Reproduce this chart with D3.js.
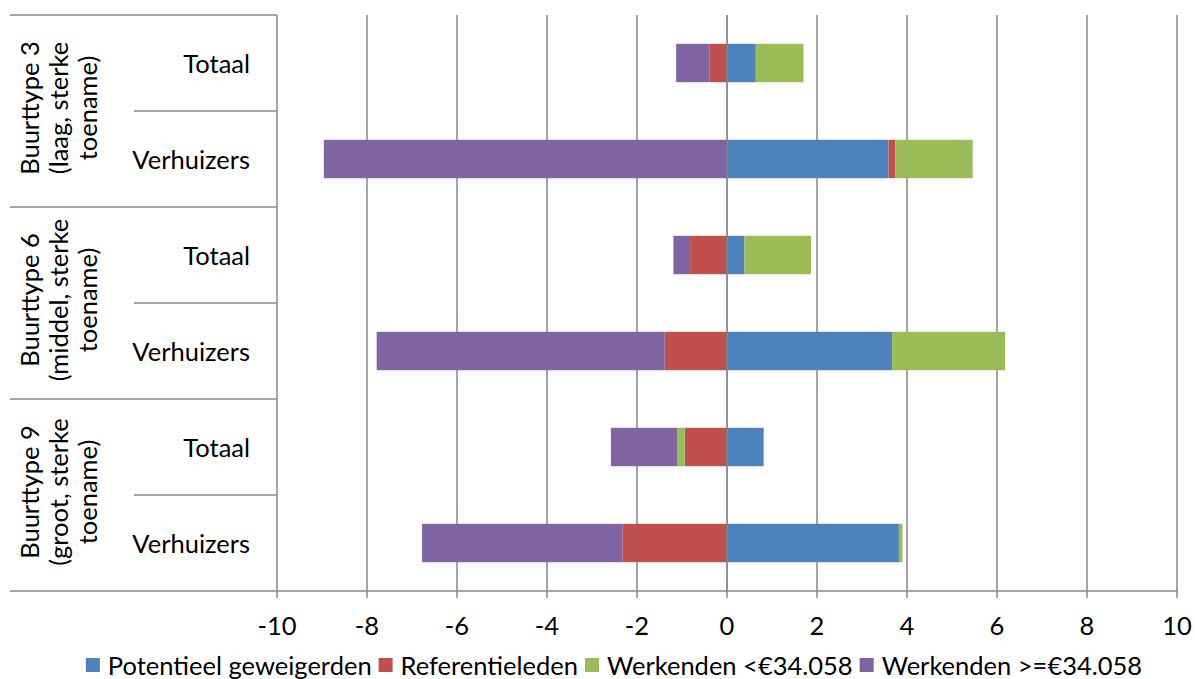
<!DOCTYPE html>
<html>
<head>
<meta charset="utf-8">
<script src="https://cdn.jsdelivr.net/npm/d3@7"></script>
<style>
  html, body { margin: 0; padding: 0; background: #fff; }
  svg { display: block; font-family: Lato, "Open Sans", sans-serif; }
</style>
</head>
<body>
<svg id="chart" width="1195" height="679"></svg>
<script>
// ---- data ----
const groups = ["Buurttype 3|(laag, sterke|toename)", "Buurttype 6|(middel, sterke|toename)", "Buurttype 9|(groot, sterke|toename)"];
const subcategories = ["Totaal", "Verhuizers"];
const seriesNames = ["Potentieel geweigerden", "Referentieleden", "Werkenden <€34.058", "Werkenden >=€34.058"];
const potentieel  = [0.64, 3.59, 0.385, 3.67, 0.815, 3.82];
const referentie  = [-0.385, 0.15, -0.82, -1.385, -0.94, -2.325];
const werkLaag    = [1.06, 1.72, 1.48, 2.51, -0.16, 0.08];
const werkHoog    = [-0.745, -8.96, -0.37, -6.40, -1.48, -4.45];
const xTicks = [-10, -8, -6, -4, -2, 0, 2, 4, 6, 8, 10];
const colors = ["#4F81BD", "#C0504D", "#9BBB59", "#8064A2"];

(function () {
const FS = 25.5;
// ---- build rows ----
const rows = [];
groups.forEach((g, gi) => subcategories.forEach((s, si) => {
  const i = gi * subcategories.length + si;
  rows.push({ id: i, group: gi, sub: s, s0: potentieel[i], s1: referentie[i], s2: werkLaag[i], s3: werkHoog[i] });
}));

const svg = d3.select("#chart");
const pLeft = 277, pRight = 1177, pTop = 15, pBottom = 591;
const x = d3.scaleLinear().domain([-10, 10]).range([pLeft, pRight]);
const y = d3.scaleBand().domain(rows.map(r => r.id)).range([pTop, pBottom]).paddingInner(0.6).paddingOuter(0.3);
const step = y.step();
const grid = "#888888";

// gridlines (with ticks below)
svg.append("g").selectAll("line").data(xTicks).join("line")
  .attr("x1", d => x(d)).attr("x2", d => x(d))
  .attr("y1", pTop).attr("y2", pBottom + 7)
  .attr("stroke", grid).attr("stroke-width", 1.5);

// bars
const stack = d3.stack().keys(["s0", "s1", "s2", "s3"]).offset(d3.stackOffsetDiverging);
const stacked = stack(rows);
svg.append("g").selectAll("g").data(stacked).join("g")
  .attr("fill", (d, i) => colors[i])
  .selectAll("rect").data(d => d).join("rect")
  .attr("x", d => x(Math.min(d[0], d[1])))
  .attr("width", d => Math.abs(x(d[1]) - x(d[0])))
  .attr("y", d => y(d.data.id))
  .attr("height", y.bandwidth());

// zero line visible over bars
svg.append("line").attr("x1", x(0)).attr("x2", x(0)).attr("y1", pTop).attr("y2", pBottom)
  .attr("stroke", grid).attr("stroke-width", 1.5).attr("opacity", 0.9);

// category axis structure
const axisG = svg.append("g").attr("stroke", grid).attr("stroke-width", 1.5);
axisG.append("line").attr("x1", 10).attr("x2", pRight).attr("y1", pBottom).attr("y2", pBottom);
groups.forEach((g, gi) => {
  const yTop = pTop + gi * subcategories.length * step;
  axisG.append("line").attr("x1", 10).attr("x2", pLeft).attr("y1", yTop).attr("y2", yTop);
  for (let s = 1; s < subcategories.length; s++) {
    const yy = yTop + s * step;
    axisG.append("line").attr("x1", 134).attr("x2", pLeft).attr("y1", yy).attr("y2", yy);
  }
});

// subcategory labels
svg.append("g").selectAll("text").data(rows).join("text")
  .attr("x", 250).attr("y", d => y(d.id) + y.bandwidth() / 2)
  .attr("text-anchor", "end").attr("dominant-baseline", "central")
  .attr("font-size", FS).attr("fill", "#000")
  .text(d => d.sub);

// group labels (rotated)
const baselines = [39, 68, 97];
groups.forEach((g, gi) => {
  const cy = pTop + (gi + 0.5) * subcategories.length * step - 3;
  g.split("|").forEach((line, li) => {
    svg.append("text")
      .attr("transform", `translate(${baselines[li]},${cy}) rotate(-90)`)
      .attr("text-anchor", "middle")
      .attr("font-size", FS).attr("fill", "#000")
      .text(line);
  });
});

// x tick labels
svg.append("g").selectAll("text").data(xTicks).join("text")
  .attr("x", d => x(d)).attr("y", 625)
  .attr("text-anchor", "middle").attr("dominant-baseline", "central")
  .attr("font-size", FS).attr("fill", "#000")
  .text(d => d);

// legend
const legend = svg.append("g");
let cx = 0;
seriesNames.forEach((name, i) => {
  const it = legend.append("g").attr("transform", `translate(${cx},0)`);
  it.append("rect").attr("x", 0).attr("y", -7).attr("width", 14).attr("height", 14).attr("fill", colors[i]);
  const t = it.append("text").attr("x", 22).attr("y", 0).attr("dominant-baseline", "central")
    .attr("font-size", FS).attr("fill", "#000").text(name);
  const w = t.node().getComputedTextLength();
  cx += 22 + w + 7;
});
const totalW = cx - 7;
legend.attr("transform", `translate(${614 - totalW / 2},665)`);
})();
</script>
</body>
</html>
